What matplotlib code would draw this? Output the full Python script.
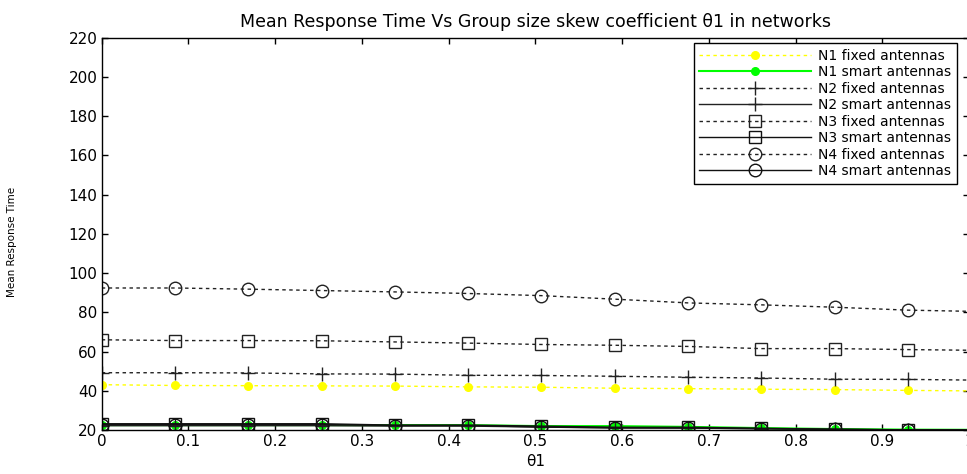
import matplotlib
matplotlib.use('Agg')
import matplotlib.pyplot as plt

plt.rcParams['font.family'] = ['DejaVu Sans']

# theta1 values (last point lies just past the right edge)
theta1 = [0, 0.0845, 0.169, 0.2535, 0.338, 0.4225, 0.507, 0.5915, 0.676, 0.7605, 0.845, 0.9295, 1.014]

# Mean response time per network
n1_fixed = [43.1, 42.7, 42.6, 42.5, 42.4, 42.0, 41.8, 41.3, 41.1, 40.8, 40.6, 40.2, 39.9]
n1_smart = [22.5, 22.5, 22.5, 22.5, 22.5, 22.5, 22.0, 22.0, 21.6, 21.0, 20.5, 20.2, 20.1]
n2_fixed = [49.2, 49.2, 49.1, 48.6, 48.5, 47.9, 47.8, 47.4, 46.9, 46.5, 45.9, 45.8, 45.4]
n2_smart = [22.2, 22.2, 22.2, 22.2, 22.0, 22.0, 21.5, 21.2, 21.0, 20.6, 20.3, 20.1, 20.0]
n3_fixed = [66.0, 65.6, 65.6, 65.5, 64.9, 64.3, 63.6, 63.2, 62.6, 61.5, 61.5, 61.0, 60.6]
n3_smart = [23.2, 23.2, 23.2, 23.2, 22.5, 22.5, 22.0, 21.4, 21.4, 20.9, 20.4, 20.1, 20.0]
n4_fixed = [92.4, 92.4, 91.8, 91.1, 90.4, 89.6, 88.5, 86.7, 84.8, 83.8, 82.6, 81.1, 80.4]
n4_smart = [22.8, 22.8, 22.8, 22.8, 22.3, 22.3, 21.5, 21.0, 21.0, 20.7, 20.3, 20.1, 20.0]

labels = ['N1 fixed antennas', 'N1 smart antennas', 'N2 fixed antennas', 'N2 smart antennas',
          'N3 fixed antennas', 'N3 smart antennas', 'N4 fixed antennas', 'N4 smart antennas']

xticks = [0, 0.1, 0.2, 0.3, 0.4, 0.5, 0.6, 0.7, 0.8, 0.9, 1]
xticklabels = ['0', '0.1', '0.2', '0.3', '0.4', '0.5', '0.6', '0.7', '0.8', '0.9', '1']
yticks = [20, 40, 60, 80, 100, 120, 140, 160, 180, 200, 220]

fig = plt.figure(figsize=(9.67, 4.74), dpi=100)
ax = fig.add_axes([0.1052, 0.0928, 0.8969, 0.8277])

dots = (0, (2.5, 2.5))

# N1
ax.plot(theta1, n1_fixed, linestyle=dots, color='#ffff00', linewidth=1,
        marker='o', markersize=5.5, markerfacecolor='#ffff00', markeredgecolor='#ffff00',
        label=labels[0])
ax.plot(theta1, n1_smart, linestyle='-', color='#00ff00', linewidth=1.5,
        marker='o', markersize=5.5, markerfacecolor='#00ff00', markeredgecolor='#00ff00',
        label=labels[1])
# N2
ax.plot(theta1, n2_fixed, linestyle=dots, color='#222222', linewidth=1,
        marker='+', markersize=10, markeredgewidth=1, label=labels[2])
ax.plot(theta1, n2_smart, linestyle='-', color='#222222', linewidth=1,
        marker='+', markersize=10, markeredgewidth=1, label=labels[3])
# N3
ax.plot(theta1, n3_fixed, linestyle=dots, color='#222222', linewidth=1,
        marker='s', markersize=8.5, markerfacecolor='none', markeredgewidth=1, label=labels[4])
ax.plot(theta1, n3_smart, linestyle='-', color='#111111', linewidth=1,
        marker='s', markersize=8.5, markerfacecolor='none', markeredgewidth=1, label=labels[5])
# N4
ax.plot(theta1, n4_fixed, linestyle=dots, color='#222222', linewidth=1,
        marker='o', markersize=9, markerfacecolor='none', markeredgewidth=1, label=labels[6])
ax.plot(theta1, n4_smart, linestyle='-', color='#111111', linewidth=1,
        marker='o', markersize=9, markerfacecolor='none', markeredgewidth=1, label=labels[7])

# Eixos
ax.set_xlim(0, 1)
ax.set_ylim(20, 220)
ax.set_xticks(xticks)
ax.set_xticklabels(xticklabels)
ax.set_yticks(yticks)
ax.tick_params(direction='in', length=4, width=1, top=True, right=True,
               labelsize=11, colors='black', pad=3)
for s in ax.spines.values():
    s.set_linewidth(1)
    s.set_color('black')
ax.spines['right'].set_visible(False)

ax.set_title('Mean Response Time Vs Group size skew coefficient \u03b81 in networks',
             fontsize=12.5, pad=8)
ax.set_xlabel('\u03b81', fontsize=11)
ax.xaxis.set_label_coords(0.5, -0.06)
ax.set_ylabel('Mean Response Time', fontsize=7.5)
ax.yaxis.set_label_coords(-0.098, 0.48)

leg = ax.legend(loc='upper right', bbox_to_anchor=(0.986, 0.9865), borderaxespad=0,
                fontsize=10, frameon=True, fancybox=False, framealpha=1,
                edgecolor='black', handlelength=8, handletextpad=0.55,
                labelspacing=0.18, borderpad=0.4, markerscale=1)
leg.get_frame().set_linewidth(1)

plt.savefig('out.png', dpi=100)
plt.close()
